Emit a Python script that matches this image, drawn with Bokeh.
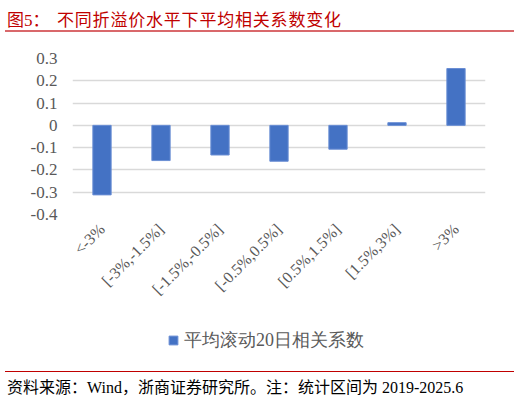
import math
from bokeh.plotting import figure
from bokeh.layouts import column
from bokeh.models import (FactorRange, FixedTicker, CustomJSTickFormatter,
                          Legend, LegendItem, Div, ColumnDataSource)
from bokeh.embed import file_html
from bokeh.resources import INLINE

# data
categories = ["<-3%", "[-3%,-1.5%]", "[-1.5%,-0.5%]", "[-0.5%,0.5%]",
              "[0.5%,1.5%]", "[1.5%,3%]", ">3%"]
corr_values = [-0.312, -0.158, -0.133, -0.161, -0.107, 0.012, 0.255]
y_ticks = [-0.4, -0.3, -0.2, -0.1, 0.0, 0.1, 0.2, 0.3]

fig_label = "图5："
title_text = "不同折溢价水平下平均相关系数变化"
series_name = "平均滚动20日相关系数"
source_parts = ["资料来源：", "Wind", "，浙商证券研究所。注：统计区间为", " 2019-2025.6"]

SERIF = "Liberation Serif"
CSS_FONT = "'Liberation Serif', 'Noto Sans CJK SC', serif"
GREY = "#595959"
BLUE = "#4472C4"
EDGE = "#6A8ED4"

W = 520
TITLE_H, FIG_H, LEG_H, FOOT_H = 36, 278, 50, 38
FRAME_LEFT = 72

# title block with the red rule under it
title_div = Div(width=W, height=TITLE_H, margin=(0, 0, 0, 0), text=f"""
<div style="position:relative;width:{W}px;height:{TITLE_H}px;">
  <div style="position:absolute;left:7px;top:6px;font:17px {CSS_FONT};color:#C00000;white-space:nowrap;">{fig_label}</div>
  <div style="position:absolute;left:57px;top:6px;font:17px {CSS_FONT};color:#C00000;letter-spacing:0.8px;white-space:nowrap;">{title_text}</div>
  <div style="position:absolute;left:5px;top:30px;width:509px;height:2px;background:#D9686B;"></div>
</div>""")

p = figure(width=W, height=FIG_H, x_range=FactorRange(*categories), y_range=(-0.4, 0.3),
           output_backend="svg", toolbar_location=None,
           min_border_left=FRAME_LEFT, min_border_right=35,
           min_border_top=22, min_border_bottom=100)
p.outline_line_color = None
p.background_fill_color = "white"

bars = p.vbar(x=categories, top=corr_values, bottom=0, width=0.31,
              fill_color=BLUE, line_color=EDGE, line_width=1)

# y axis
p.yaxis.ticker = FixedTicker(ticks=y_ticks)
p.yaxis.formatter = CustomJSTickFormatter(code="return Math.abs(tick) < 1e-9 ? '0' : tick.toFixed(1)")
p.yaxis.axis_line_color = None
p.yaxis.major_tick_line_color = None
p.yaxis.minor_tick_line_color = None
p.yaxis.major_tick_out = 0
p.yaxis.major_tick_in = 0
p.yaxis.major_label_standoff = 15
p.yaxis.major_label_text_font = SERIF
p.yaxis.major_label_text_font_size = "17px"
p.yaxis.major_label_text_color = GREY

# x axis
p.xaxis.axis_line_color = None
p.xaxis.major_tick_line_color = None
p.xaxis.major_tick_out = 0
p.xaxis.major_tick_in = 0
p.xaxis.major_label_orientation = math.pi / 4
p.xaxis.major_label_standoff = 12
p.xaxis.major_label_text_font = SERIF
p.xaxis.major_label_text_font_size = "16px"
p.xaxis.major_label_text_color = GREY

p.xgrid.grid_line_color = None
p.ygrid.ticker = FixedTicker(ticks=y_ticks)
p.ygrid.grid_line_color = "#D9D9D9"
p.ygrid.grid_line_width = 1.5

# legend strip: a square key in the series colour, parked outside the strip's ranges
# (the column aligns this strip's frame with the chart frame, so x is frame-relative)
lg = figure(width=W, height=LEG_H, x_range=(0, 1), y_range=(0, 1),
            x_axis_location=None, y_axis_location=None,
            output_backend="svg", toolbar_location=None, min_border=0)
lg.grid.grid_line_color = None
lg.outline_line_color = None
key = lg.scatter(x="x", y="y", marker="square", size=9,
                 source=ColumnDataSource(dict(x=[-10], y=[-10])),
                 fill_color=BLUE, line_color=EDGE, line_width=1)
legend = Legend(items=[LegendItem(label=series_name, renderers=[key])],
                location=(162 - FRAME_LEFT, 12), orientation="horizontal",
                glyph_width=22, glyph_height=22, label_standoff=0,
                padding=0, margin=0, border_line_alpha=0, background_fill_alpha=0,
                label_text_font=SERIF, label_text_font_size="18px",
                label_text_color=GREY)
lg.add_layout(legend)

# source block with the rule above it
foot_div = Div(width=W, height=FOOT_H, margin=(0, 0, 0, 0), text=f"""
<div style="position:relative;width:{W}px;height:{FOOT_H}px;">
  <div style="position:absolute;left:5px;top:7px;width:509px;height:1px;background:#C00000;"></div>
  <div style="position:absolute;left:7px;top:14px;font:16px {CSS_FONT};color:#000000;white-space:nowrap;line-height:20px;">{"".join(source_parts)}</div>
</div>""")

layout = column(title_div, p, lg, foot_div, spacing=0)
open("out.html", "w").write(file_html(layout, INLINE))
